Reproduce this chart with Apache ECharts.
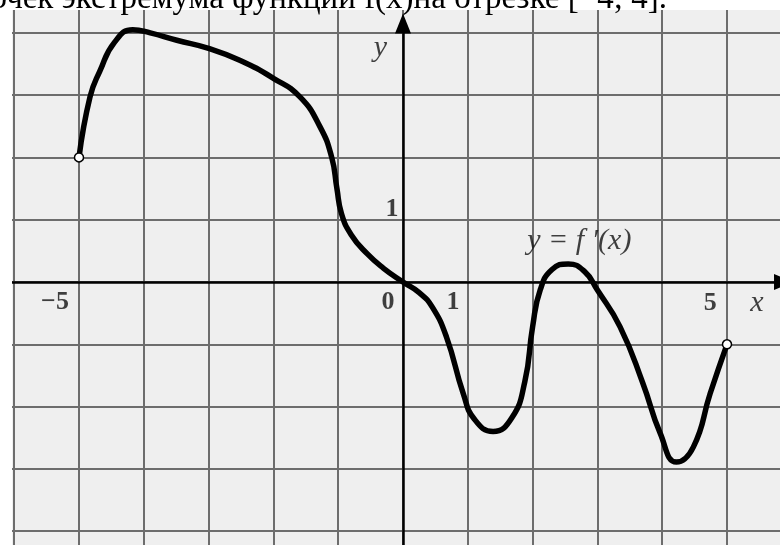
<!DOCTYPE html>
<html>
<head>
<meta charset="utf-8">
<script src="https://cdn.jsdelivr.net/npm/echarts@6/dist/echarts.min.js"></script>
<style>
  html, body { margin: 0; padding: 0; background: #fff; }
  #chart { width: 780px; height: 545px; }
</style>
</head>
<body>
<div id="chart"></div>
<script>
// curve y = f'(x)
const curveX = [-5, -4.83, -4.68, -4.45, -4.17, -3.9, -3.49, -3, -2.52, -2, -1.59, -1.28, -1.1, -1.02, -0.95,
  -0.8, -0.55, -0.3, 0, 0.25, 0.45, 0.67, 0.93, 1.1, 1.39, 1.68, 1.88, 2.0, 2.12, 2.3, 2.55, 2.8, 3.0,
  3.35, 3.7, 3.97, 4.22, 4.48, 4.74, 5];
const curveY = [2, 2.97, 3.38, 3.85, 4.05, 4.0, 3.88, 3.75, 3.56, 3.27, 2.97, 2.49, 2.0, 1.5, 1.1,
  0.76, 0.45, 0.22, 0, -0.17, -0.4, -0.88, -1.79, -2.2, -2.4, -2.18, -1.6, -0.72, -0.12, 0.2, 0.29, 0.17, -0.13,
  -0.72, -1.62, -2.43, -2.89, -2.65, -1.79, -1];
// open end points
const endPoints = [[-5, 2], [5, -1]];
// axis labels: text, x, y, italic
const labelText = ["\u22125", "0", "1", "5", "x", "1", "y", "y = f \u2032(x)"];
const labelX = [-5.37, -0.23, 0.77, 4.74, 5.46, -0.17, -0.35, 2.72];
const labelY = [-0.32, -0.32, -0.32, -0.34, -0.34, 1.16, 3.76, 0.66];
const labelItalic = [false, false, false, false, true, false, true, true];
const headerText = "точек экстремума функции f(x)на отрезке [\u22124; 4].";

const chart = echarts.init(document.getElementById("chart"));

const gridColor = "#6d6d6d";
const serif = "Liberation Serif";

const option = {
  animation: false,
  backgroundColor: "#fff",
  grid: {
    left: -50.6,
    top: -29.5,
    width: 842.4,
    height: 623,
    outerBoundsMode: "none",
    containLabel: false,
    show: true,
    backgroundColor: "#efefef",
    borderWidth: 0,
  },
  xAxis: {
    type: "value",
    min: -7,
    max: 6,
    interval: 1,
    axisLine: { show: false },
    axisTick: { show: false },
    axisLabel: { show: false },
    splitLine: { show: true, lineStyle: { color: gridColor, width: 2 } },
  },
  yAxis: {
    type: "value",
    min: -5,
    max: 5,
    interval: 1,
    axisLine: { show: false },
    axisTick: { show: false },
    axisLabel: { show: false },
    splitLine: { show: true, lineStyle: { color: gridColor, width: 2 } },
  },
  graphic: [
    { type: "rect", left: 0, top: 0, z: 100, shape: { width: 780, height: 10 }, style: { fill: "#fff" } },
    { type: "rect", left: 0, top: 0, z: 100, shape: { width: 12, height: 545 }, style: { fill: "#fff" } },
    {
      type: "text",
      z: 101,
      style: {
        text: headerText,
        x: 667,
        y: 16,
        align: "right",
        verticalAlign: "bottom",
        font: "33px " + serif,
        fill: "#000",
      },
    },
  ],
  series: [
    {
      type: "line",
      name: "axes",
      data: [],
      silent: true,
      markLine: {
        silent: true,
        symbol: ["none", "triangle"],
        symbolSize: [16, 20],
        label: { show: false },
        lineStyle: { color: "#000", width: 2.5, type: "solid" },
        data: [
          [{ coord: [-7, 0] }, { coord: [5.88, 0] }],
          [{ coord: [0, -5] }, { coord: [0, 4.15] }],
        ],
      },
    },
    {
      type: "line",
      name: "f'(x)",
      data: curveX.map((x, i) => [x, curveY[i]]),
      smooth: 0.5,
      showSymbol: false,
      lineStyle: { color: "#000", width: 5.5 },
      z: 5,
    },
    {
      type: "scatter",
      data: endPoints,
      symbol: "circle",
      symbolSize: 9,
      itemStyle: { color: "#fff", borderColor: "#000", borderWidth: 1.5, opacity: 1 },
      z: 6,
    },
    {
      type: "scatter",
      data: labelX.map((x, i) => ({
        value: [x, labelY[i]],
        label: {
          formatter: labelText[i],
          fontStyle: labelItalic[i] ? "italic" : "normal",
          fontWeight: labelItalic[i] ? "normal" : "bold",
          fontSize: labelItalic[i] ? 30 : 26,
        },
      })),
      symbolSize: 0,
      silent: true,
      label: {
        show: true,
        position: "inside",
        fontFamily: serif,
        color: "#111",
      },
      z: 7,
    },
  ],
};

chart.setOption(option);
</script>
</body>
</html>
